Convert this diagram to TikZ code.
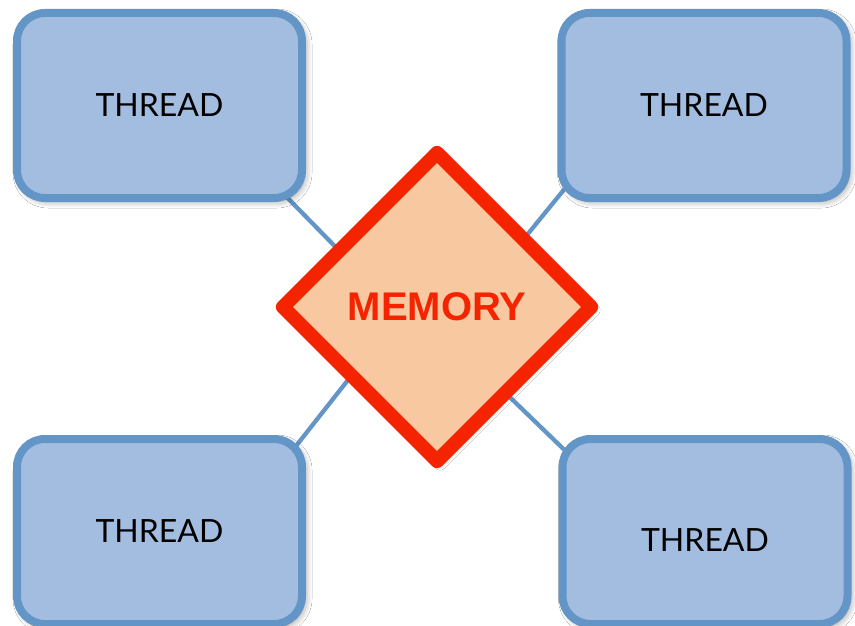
\documentclass[tikz,border=0pt]{standalone}
\usepackage{fontspec}
\setmainfont{Lato}
\newfontfamily\memfont{Liberation Sans}
\usetikzlibrary{shapes.geometric,shadows.blur,backgrounds}

\definecolor{boxfill}{RGB}{163,189,225}
\definecolor{boxedge}{RGB}{99,150,199}
\definecolor{memfill}{RGB}{248,201,161}
\definecolor{memedge}{RGB}{244,36,0}

\tikzset{
  thread/.style={draw=boxedge, fill=boxfill, line width=8pt,
    rounded corners=28pt, minimum width=285pt, minimum height=185pt,
    inner sep=0pt, font=\fontsize{32pt}{36pt}\selectfont,
    blur shadow={shadow xshift=3pt, shadow yshift=-3pt,
      shadow blur radius=7pt, shadow opacity=45}},
  memory/.style={diamond, aspect=1, draw=memedge, fill=memfill,
    line width=14pt, line join=round, minimum width=314pt,
    minimum height=314pt, inner sep=0pt, text=memedge,
    font=\memfont\bfseries\fontsize{40pt}{44pt}\selectfont,
    blur shadow={shadow xshift=3pt, shadow yshift=-3pt,
      shadow blur radius=6pt, shadow opacity=30}},
  link/.style={draw=boxedge, line width=4.3pt}
}

\begin{document}
\begin{tikzpicture}[x=1pt, y=-1pt]
  \useasboundingbox (0,0) rectangle (855,626);

  % the shared memory and the four threads around it
  \node[memory] (mem) at (437,307) {MEMORY};
  \node[thread] (tl) at (159.5,105.5) {THREAD};
  \node[thread] (tr) at (704,105.5) {THREAD};
  \node[thread] (bl) at (159.5,531.5) {THREAD};
  \node[thread] (br) at (705,531.5) {\raisebox{-9pt}[\height][\depth]{THREAD}};

  % connector ends, tucked under the shapes they join
  \coordinate (tl-in) at (270,180);
  \coordinate (mem-tl) at (365,277);
  \coordinate (tr-in) at (580,170);
  \coordinate (mem-tr) at (505,262);
  \coordinate (bl-in) at (285,460);
  \coordinate (mem-bl) at (370,352);
  \coordinate (br-in) at (580,465);
  \coordinate (mem-br) at (490,378);

  \begin{scope}[on background layer]
    \fill[white] (0,0) rectangle (855,626);
    \draw[link] (tl-in) -- (mem-tl);
    \draw[link] (tr-in) -- (mem-tr);
    \draw[link] (mem-bl) -- (bl-in);
    \draw[link] (mem-br) -- (br-in);
  \end{scope}
\end{tikzpicture}
\end{document}
